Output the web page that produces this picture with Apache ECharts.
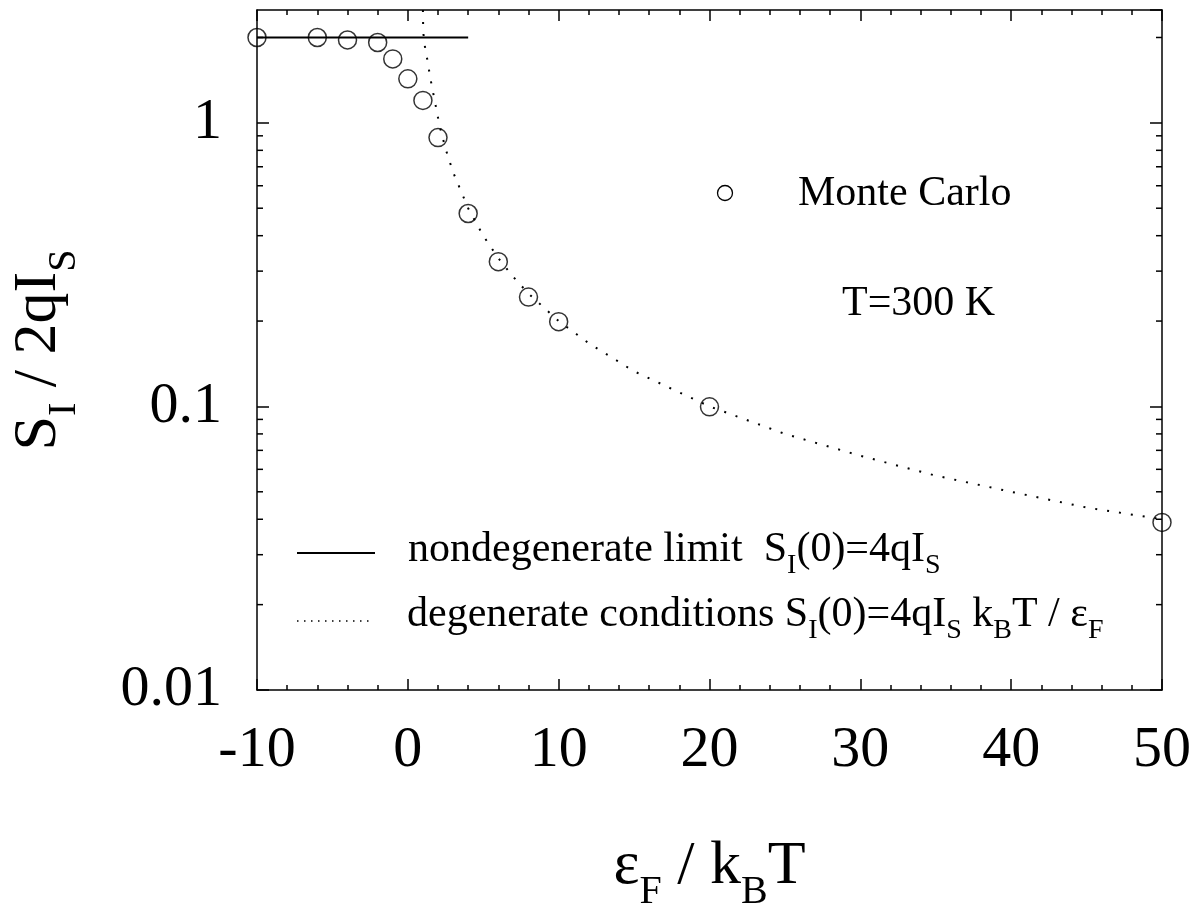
<!DOCTYPE html>
<html>
<head>
<meta charset="utf-8">
<script src="https://cdn.jsdelivr.net/npm/echarts@6/dist/echarts.min.js"></script>
<style>
html,body{margin:0;padding:0;background:#fff;}
#chart{width:1202px;height:917px;}
</style>
</head>
<body>
<div id="chart"></div>
<script>
// ---- data ----
const monteCarloX = [-10, -6, -4, -2, -1, 0, 1, 2, 4, 6, 8, 10, 20, 50];
const monteCarloY = [2.0, 2.0, 1.96, 1.92, 1.68, 1.43, 1.2, 0.887, 0.479, 0.324, 0.243, 0.199, 0.0997, 0.039];
const nondegX = [-10, 4];
const nondegY = [2.0, 2.0];
const degX = [1.0, 1.02, 1.1, 1.3, 1.5, 1.7, 2.1, 2.5, 3, 4, 5, 6, 7, 8, 10, 12, 15, 20, 25, 30, 35, 40, 45, 50];
const degY = [2.5, 2.1, 1.9, 1.66, 1.43, 1.26, 0.98, 0.81, 0.67, 0.5, 0.4, 0.333, 0.286, 0.25, 0.2, 0.167, 0.133, 0.1, 0.08, 0.067, 0.057, 0.05, 0.044, 0.04];
const xMin = -10, xMax = 50, xInterval = 10;
const yMin = 0.01, yMax = 2.5;
const yDecades = [0.01, 0.1, 1];
const minorMultipliers = [2, 3, 4, 5, 6, 7, 8, 9];

const FONT = 'Liberation Serif';
const zip = (a, b) => a.map((v, i) => [v, b[i]]);

const minorTickVals = [];
yDecades.forEach(d => minorMultipliers.forEach(m => { const v = m * d; if (v <= yMax) minorTickVals.push([xMin, v]); }));

const chart = echarts.init(document.getElementById('chart'), null, {renderer: 'canvas'});

const subBig = {fontSize: 40, fontFamily: FONT, color: '#000', verticalAlign: 'bottom', padding: [50, 0, 0, 0]};
const mainBig = {fontSize: 62, fontFamily: FONT, color: '#000'};
const subSm = {fontSize: 28, fontFamily: FONT, color: '#000', verticalAlign: 'bottom', padding: [33, 0, 0, 0]};
const mainSm = {fontSize: 42, fontFamily: FONT, color: '#000'};

const axisLineStyle = {color: '#000', width: 1.5};

function logLabel(v) {
  const l = Math.log10(v);
  if (Math.abs(l - Math.round(l)) > 1e-6) return '';
  return String(+Math.pow(10, Math.round(l)).toPrecision(6));
}

const option = {
  backgroundColor: '#fff',
  animation: false,
  grid: {left: 253, right: 40, top: 10, bottom: 216, containLabel: false},
  xAxis: [{
    type: 'value', position: 'bottom', min: xMin, max: xMax, interval: xInterval,
    axisLine: {show: true, onZero: false, lineStyle: axisLineStyle},
    axisTick: {show: true, inside: true, length: 11, lineStyle: {color: '#000', width: 1.5}},
    minorTick: {show: true, splitNumber: 5, length: 5, lineStyle: {color: '#000', width: 1.5}},
    splitLine: {show: false},
    axisLabel: {fontFamily: FONT, fontSize: 58, color: '#000', margin: 32},
    name: '{m|ε}{s|F}{m| / k}{s|B}{m|T}',
    nameLocation: 'middle', nameGap: 132,
    nameTextStyle: {rich: {m: mainBig, s: subBig}}
  }, {
    type: 'value', position: 'top', min: xMin, max: xMax, interval: xInterval,
    axisLine: {show: true, onZero: false, lineStyle: axisLineStyle},
    axisTick: {show: true, inside: true, length: 11, lineStyle: {color: '#000', width: 1.5}},
    minorTick: {show: true, splitNumber: 5, length: 5, lineStyle: {color: '#000', width: 1.5}},
    splitLine: {show: false},
    axisLabel: {show: false}
  }],
  yAxis: [{
    type: 'log', logBase: 10, position: 'left', min: yMin, max: yMax,
    axisLine: {show: true, onZero: false, lineStyle: axisLineStyle},
    axisTick: {show: true, inside: true, length: 12, lineStyle: {color: '#000', width: 1.5}},
    splitLine: {show: false},
    axisLabel: {fontFamily: FONT, fontSize: 58, color: '#000', margin: 35, formatter: logLabel, showMaxLabel: false},
    name: '{m|S}{s|I}{m| / 2qI}{s|S}',
    nameLocation: 'middle', nameGap: 173, nameRotate: 90,
    nameTextStyle: {rich: {m: mainBig, s: subBig}}
  }, {
    type: 'log', logBase: 10, position: 'right', min: yMin, max: yMax,
    axisLine: {show: true, onZero: false, lineStyle: axisLineStyle},
    axisTick: {show: true, inside: true, length: 12, lineStyle: {color: '#000', width: 1.5}},
    splitLine: {show: false},
    axisLabel: {show: false}
  }],
  series: [{
    type: 'custom', xAxisIndex: 0, yAxisIndex: 0, silent: true, clip: false,
    data: minorTickVals,
    renderItem: function (params, api) {
      const v = api.value(1);
      const l = api.coord([xMin, v]);
      const r = api.coord([xMax, v]);
      const st = {stroke: '#000', lineWidth: 1.5};
      return {type: 'group', children: [
        {type: 'line', shape: {x1: l[0], y1: l[1], x2: l[0] + 6, y2: l[1]}, style: st},
        {type: 'line', shape: {x1: r[0], y1: r[1], x2: r[0] - 6, y2: r[1]}, style: st}
      ]};
    }
  }, {
    type: 'line', name: 'nondegenerate', data: zip(nondegX, nondegY), showSymbol: false, symbol: 'none',
    lineStyle: {color: '#000', width: 2, type: 'solid'}, silent: true
  }, {
    type: 'line', name: 'degenerate', data: zip(degX, degY), showSymbol: false, symbol: 'none',
    lineStyle: {color: '#000', width: 2, type: [2, 10]}, silent: true
  }, {
    type: 'scatter', name: 'Monte Carlo', data: zip(monteCarloX, monteCarloY),
    symbol: 'circle', symbolSize: 18,
    itemStyle: {color: 'rgba(0,0,0,0)', borderColor: '#000', borderWidth: 1.5}, silent: true
  }],
  graphic: [
    {type: 'circle', shape: {cx: 725, cy: 193, r: 7.5}, style: {fill: 'none', stroke: '#000', lineWidth: 1.3}},
    {type: 'text', x: 798, y: 193.5, style: {text: 'Monte Carlo', font: '42px "Liberation Serif"', fill: '#000', verticalAlign: 'middle'}},
    {type: 'text', x: 842, y: 303.5, style: {text: 'T=300 K', font: '42px "Liberation Serif"', fill: '#000', verticalAlign: 'middle'}},
    {type: 'line', shape: {x1: 297, y1: 553, x2: 375, y2: 553}, style: {stroke: '#000', lineWidth: 2}},
    {type: 'line', shape: {x1: 297, y1: 621, x2: 370, y2: 621}, style: {stroke: '#000', lineWidth: 1.5, lineDash: [1.5, 5.5]}},
    {type: 'text', x: 408, y: 549.5, style: {
      text: '{m|nondegenerate limit  S}{s|I}{m|(0)=4qI}{s|S}',
      rich: {m: mainSm, s: subSm}, verticalAlign: 'middle'}},
    {type: 'text', x: 407, y: 614.5, style: {
      text: '{m|degenerate conditions S}{s|I}{m|(0)=4qI}{s|S}{m| k}{s|B}{m|T / ε}{s|F}',
      rich: {m: mainSm, s: subSm}, verticalAlign: 'middle'}}
  ]
};
chart.setOption(option);
</script>
</body>
</html>
